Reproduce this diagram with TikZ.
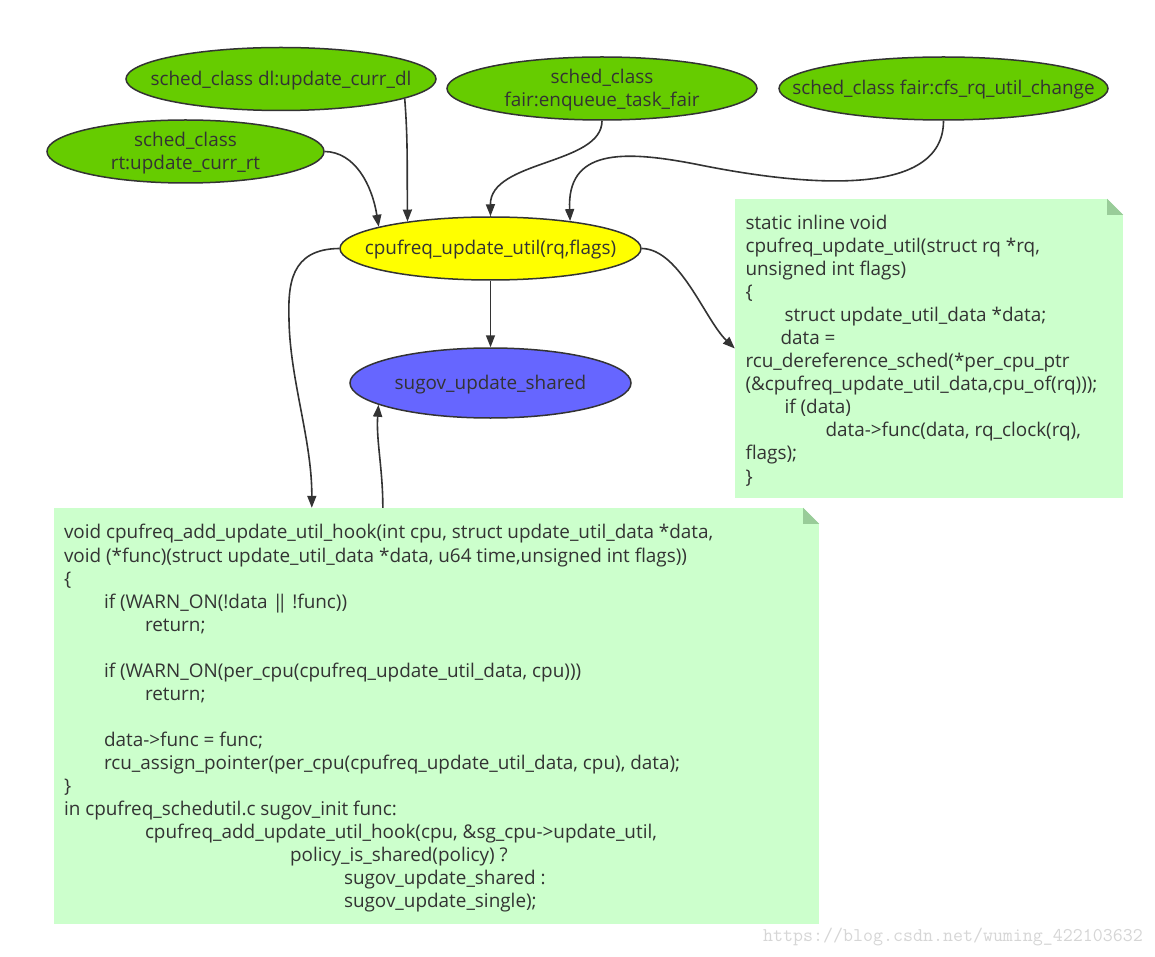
\documentclass[tikz,border=0pt]{standalone}
\usepackage{fontspec}
\setmainfont{Open Sans}
\usetikzlibrary{shapes.geometric,arrows.meta,calc}
\definecolor{ink}{HTML}{333333}
\definecolor{greenfill}{HTML}{66CC00}
\definecolor{yellowfill}{HTML}{FFFF00}
\definecolor{bluefill}{HTML}{6666FF}
\definecolor{notefill}{HTML}{CCFFCC}
\definecolor{foldfill}{HTML}{99CC99}
\definecolor{wm}{HTML}{D6D6D6}
\begin{document}
\begin{tikzpicture}[x=1pt,y=-1pt,
  txt/.style={text=ink, font=\fontsize{18.9}{23.06}\selectfont},
  oval/.style={ellipse, draw=ink, line width=1.5pt, inner sep=0pt},
  ovaltext/.style={txt, align=center, inner sep=0pt, yshift=-1.5pt},
  notebox/.style={fill=notefill, inner sep=0pt},
  codetext/.style={txt, align=left, anchor=west, inner sep=0pt},
  conn/.style={draw=ink, line width=1.6pt, -{Triangle[length=12pt,width=9pt]}},
]
\useasboundingbox (0,0) rectangle (1155,957);
\fill[white] (0,0) rectangle (1155,957);

% ellipses (fixed size, text as centred label)
\node[oval, fill=greenfill, minimum width=310pt, minimum height=63pt,
  label={[ovaltext]center:sched\_class dl:update\_curr\_dl}] (dl) at (281,79) {};
\node[oval, fill=greenfill, minimum width=277pt, minimum height=63pt,
  label={[ovaltext]center:sched\_class\\rt:update\_curr\_rt}] (rt) at (185.5,151.5) {};
\node[oval, fill=greenfill, minimum width=310pt, minimum height=63pt,
  label={[ovaltext]center:sched\_class\\fair:enqueue\_task\_fair}] (enq) at (602,88.5) {};
\node[oval, fill=greenfill, minimum width=329pt, minimum height=63pt,
  label={[ovaltext]center:sched\_class fair:cfs\_rq\_util\_change}] (cfs) at (943.5,88.5) {};
\node[oval, fill=yellowfill, minimum width=301pt, minimum height=63pt,
  label={[ovaltext]center:cpufreq\_update\_util(rq,flags)}] (cpu) at (490.5,248.5) {};
\node[oval, fill=bluefill, minimum width=281pt, minimum height=70pt,
  label={[ovaltext]center:sugov\_update\_shared}] (sugov) at (490.5,383) {};

% right note
\node[notebox, minimum width=388pt, minimum height=299pt] (rnote) at (929,348.5) {};
\fill[white] (rnote.north east) -- ++(-16,0) -- ++(16,16) -- cycle;
\fill[foldfill] ($(rnote.north east)+(-16,0)$) -- ++(16,16) -- ++(-16,0) -- cycle;
\node[codetext] (rtext) at ($(rnote.west)+(10.5,2)$) {static inline void\\
cpufreq\_update\_util(struct rq *rq,\\
unsigned int flags)\\
\{\\
\hspace*{39pt}struct update\_util\_data *data;\\
\hspace*{35pt}data =\\
rcu\_dereference\_sched(*per\_cpu\_ptr\\
(\&cpufreq\_update\_util\_data,cpu\_of(rq)));\\
\hspace*{39pt}if (data)\\
\hspace*{80pt}data->func(data, rq\_clock(rq),\\
flags);\\
\}};

% bottom note
\node[notebox, minimum width=765pt, minimum height=416pt] (bnote) at (436.5,716) {};
\fill[white] (bnote.north east) -- ++(-16,0) -- ++(16,16) -- cycle;
\fill[foldfill] ($(bnote.north east)+(-16,0)$) -- ++(16,16) -- ++(-16,0) -- cycle;
\node[codetext] (btext) at ($(bnote.west)+(10,2.5)$) {void cpufreq\_add\_update\_util\_hook(int cpu, struct update\_util\_data *data,\\
void (*func)(struct update\_util\_data *data, u64 time,unsigned int flags))\\
\{\\
\hspace*{40pt}if (WARN\_ON(!data \mbox{|\kern-6pt|} !func))\\
\hspace*{81pt}return;\\
\mbox{}\\
\hspace*{40pt}if (WARN\_ON(per\_cpu(cpufreq\_update\_util\_data, cpu)))\\
\hspace*{81pt}return;\\
\mbox{}\\
\hspace*{40pt}data->func = func;\\
\hspace*{40pt}rcu\_assign\_pointer(per\_cpu(cpufreq\_update\_util\_data, cpu), data);\\
\}\\
in cpufreq\_schedutil.c sugov\_init func:\\
\hspace*{81pt}cpufreq\_add\_update\_util\_hook(cpu, \&sg\_cpu->update\_util,\\
\hspace*{226pt}policy\_is\_shared(policy) ?\\
\hspace*{280pt}sugov\_update\_shared :\\
\hspace*{280pt}sugov\_update\_single);};

% connectors
\draw[conn] (dl.-9.4) .. controls (408,140) and (407,170) .. (cpu.162.6);
\draw[conn] (rt.east) .. controls (355,152) and (372,185) .. (cpu.169.5);
\draw[conn] (enq.south) .. controls (602,165) and (490,160) .. (cpu.north);
\draw[conn] (cfs.south) .. controls (943.5,200) and (800,185) .. (700,165) .. controls (620,149) and (567,150) .. (cpu.19.5);
\draw[conn] (cpu.south) -- (sugov.north);
\draw[conn] (cpu.east) .. controls (680,249) and (705,320) .. (rnote.west);
\draw[conn] (cpu.west) .. controls (290,249) and (288,285) .. (289,320) .. controls (290,380) and (312,440) .. ($(bnote.north west)+(258,0)$);
\draw[conn] ($(bnote.north west)+(329,0)$) .. controls (383,470) and (376,440) .. (sugov.191.1);

% watermark
\node[text=wm, font=\ttfamily\fontsize{19.4}{19.4}\selectfont, anchor=west, inner sep=0pt] (wmark) at (763,937) {https://blog.csdn.net/wuming\_422103632};
\end{tikzpicture}
\end{document}
